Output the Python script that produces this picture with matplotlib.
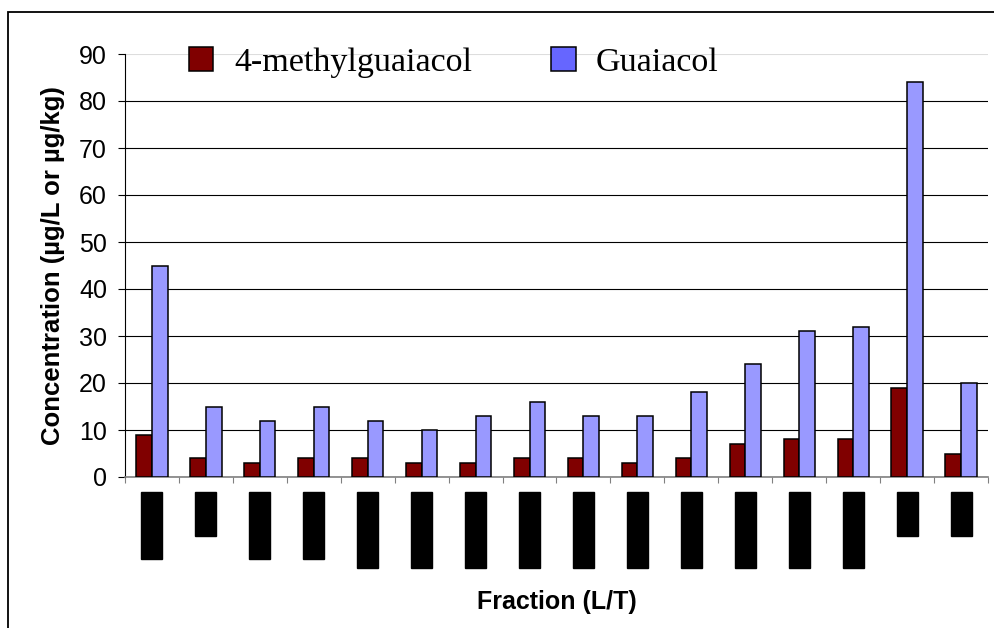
import matplotlib.pyplot as plt
from matplotlib.patches import Rectangle, Patch
import numpy as np

# hidden (redacted) fraction labels - placeholders of similar length
fractions = ["0.0-0.05", "1.5-2", "0.05-0.1", "0.15-0.2", "0.20-0.25",
             "0.25-0.30", "0.30-0.35", "0.35-0.40", "0.40-0.45", "0.45-0.50",
             "0.50-0.55", "0.55-0.60", "0.60-0.65", "0.65-0.70", "2-2.5", "2.5-3"]
methylguaiacol = [9, 4, 3, 4, 4, 3, 3, 4, 4, 3, 4, 7, 8, 8, 19, 5]
guaiacol = [45, 15, 12, 15, 12, 10, 13, 16, 13, 13, 18, 24, 31, 32, 84, 20]

fig = plt.figure(figsize=(9.95, 6.28), dpi=100)
ax = fig.add_axes([125/995, 1-477/628, 863/995, 423/628])

x = np.arange(len(fractions))
w = 0.29
ax.bar(x - w/2, methylguaiacol, w, color="#800000", edgecolor="black", linewidth=1.1, zorder=3)
ax.bar(x + w/2, guaiacol, w, color="#9999FF", edgecolor="black", linewidth=1.1, zorder=3)

ax.set_xlim(-0.5, len(fractions) - 0.5)
ax.set_ylim(0, 90)
ax.set_yticks(range(0, 91, 10))
ax.yaxis.grid(True, color="black", linewidth=0.8, zorder=0)
ax.get_ygridlines()[-1].set_color("#dddddd")
ax.set_axisbelow(True)

for s in ["top", "right"]:
    ax.spines[s].set_visible(False)
ax.spines["left"].set_color("black")
ax.spines["bottom"].set_color("#808080")
ax.spines["bottom"].set_linewidth(1.2)

ax.tick_params(axis="y", labelsize=18, length=5, pad=8, direction="out")
for t in ax.get_yticklabels():
    t.set_fontfamily("Liberation Sans")

# boundary ticks between categories, labels at centers
ax.set_xticks(np.arange(-0.5, len(fractions)), minor=False)
ax.set_xticklabels([])
ax.tick_params(axis="x", which="major", length=4, color="#808080", direction="out")
ax.set_xticks(x, minor=True)
ax.set_xticklabels(fractions, minor=True, rotation=90, fontsize=12,
                   fontfamily="Liberation Sans", color="black")
ax.tick_params(axis="x", which="minor", length=0, pad=13)
for t in ax.get_xticklabels(minor=True):
    t.set_bbox(dict(facecolor="black", edgecolor="black", pad=2.2))

ax.set_ylabel("Concentration (µg/L or µg/kg)", fontsize=18.5, fontweight="bold",
              fontfamily="Liberation Sans", labelpad=10)
ax.set_xlabel("Fraction (L/T)", fontsize=18, fontweight="bold",
              fontfamily="Liberation Sans", labelpad=18)

handles = [Patch(facecolor="#800000", edgecolor="black", linewidth=1.1),
           Patch(facecolor="#6666FF", edgecolor="black", linewidth=1.1)]
fig.legend(handles, ["4-methylguaiacol", "Guaiacol"], loc="upper left",
           bbox_to_anchor=(189/995, 1-47/628), ncol=2, frameon=False,
           prop={"family": "Liberation Serif", "size": 24.5},
           handlelength=0.72, handleheight=0.72, handletextpad=0.6,
           columnspacing=2.33, borderaxespad=0, borderpad=0)

# outer chart frame
fig.add_artist(Rectangle((8/995, -0.1), 1.2, 1.1 - 12/628,
                         transform=fig.transFigure, fill=False,
                         edgecolor="black", linewidth=1.3))

fig.savefig("out.png", dpi=100)
